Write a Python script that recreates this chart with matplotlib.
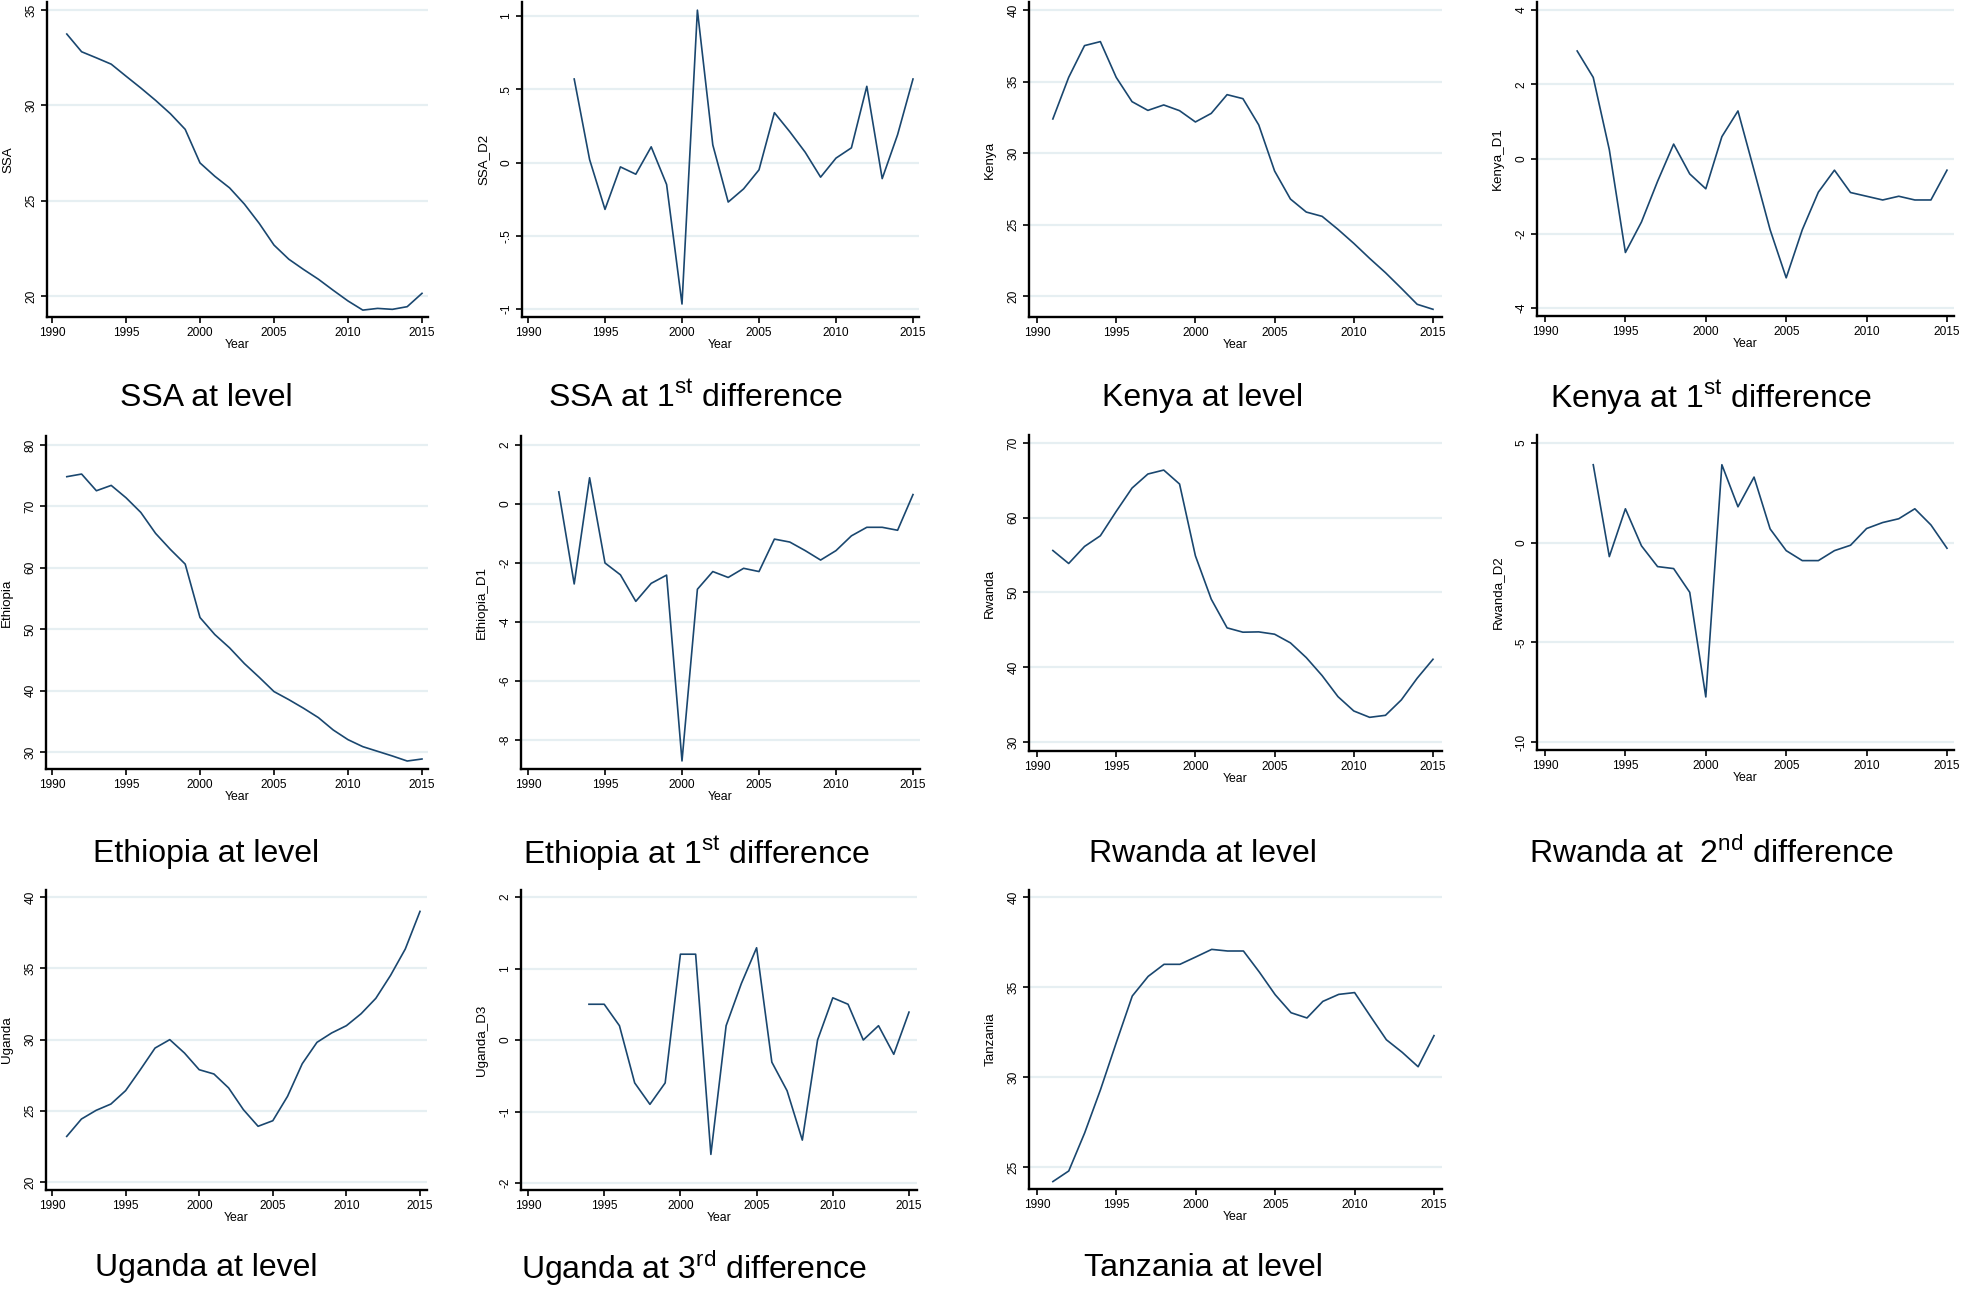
import matplotlib
matplotlib.use('Agg')
import matplotlib.pyplot as plt

plt.rcParams['font.family'] = ['Liberation Sans', 'DejaVu Sans']
plt.rcParams['mathtext.fontset'] = 'custom'
plt.rcParams['mathtext.rm'] = 'Liberation Sans'

# ---- data ----
years_91 = list(range(1991, 2016))
years_92 = list(range(1992, 2016))
years_93 = list(range(1993, 2016))
years_94 = list(range(1994, 2016))

ssa = [33.74, 32.81, 32.49, 32.16, 31.53, 30.91, 30.26, 29.56, 28.74, 26.98,
       26.28, 25.67, 24.82, 23.81, 22.67, 21.93, 21.39, 20.88, 20.30, 19.74,
       19.26, 19.35, 19.30, 19.44, 20.14]
ssa_d2 = [0.57, 0.02, -0.32, -0.03, -0.08, 0.107, -0.15, -0.966, 1.04, 0.12,
          -0.27, -0.18, -0.05, 0.34, 0.21, 0.07, -0.10, 0.03, 0.10, 0.52,
          -0.11, 0.19, 0.57]
kenya = [32.38, 35.29, 37.51, 37.79, 35.29, 33.59, 32.98, 33.36, 32.96, 32.17,
         32.77, 34.08, 33.80, 31.96, 28.74, 26.78, 25.87, 25.57, 24.66, 23.68,
         22.63, 21.63, 20.54, 19.42, 19.07]
kenya_d1 = [2.90, 2.19, 0.25, -2.51, -1.69, -0.60, 0.40, -0.40, -0.80, 0.60,
            1.29, -0.30, -1.90, -3.19, -1.90, -0.89, -0.30, -0.90, -1.00, -1.10,
            -1.00, -1.10, -1.10, -0.30]
ethiopia = [74.84, 75.27, 72.55, 73.42, 71.41, 69.02, 65.60, 62.99, 60.60, 51.90,
            49.13, 46.96, 44.40, 42.17, 39.84, 38.53, 37.12, 35.60, 33.59, 32.01,
            30.87, 30.11, 29.35, 28.53, 28.86]
ethiopia_d1 = [0.41, -2.71, 0.89, -2.00, -2.40, -3.30, -2.69, -2.41, -8.71, -2.89,
               -2.29, -2.49, -2.18, -2.29, -1.19, -1.29, -1.58, -1.90, -1.58, -1.08,
               -0.79, -0.79, -0.89, 0.32]
rwanda = [55.62, 53.88, 56.16, 57.59, 60.85, 63.97, 65.85, 66.38, 64.51, 54.91,
          49.11, 45.27, 44.69, 44.73, 44.42, 43.26, 41.29, 38.88, 36.07, 34.15,
          33.30, 33.57, 35.63, 38.53, 41.07]
rwanda_d2 = [3.91, -0.70, 1.70, -0.16, -1.20, -1.30, -2.49, -7.74, 3.91, 1.80,
             3.29, 0.69, -0.40, -0.90, -0.90, -0.40, -0.13, 0.71, 1.01, 1.20,
             1.70, 0.89, -0.28]
uganda = [23.20, 24.42, 25.03, 25.47, 26.41, 27.88, 29.40, 29.99, 29.05, 27.88,
          27.58, 26.60, 25.08, 23.91, 24.30, 26.01, 28.30, 29.80, 30.46, 30.97,
          31.81, 32.89, 34.50, 36.35, 38.99]
uganda_d3 = [0.50, 0.50, 0.20, -0.60, -0.90, -0.60, 1.20, 1.20, -1.60, 0.20,
             0.79, 1.29, -0.31, -0.71, -1.40, 0.00, 0.59, 0.50, 0.00, 0.20,
             -0.20, 0.39]
tanzania = [24.19, 24.78, 26.89, 29.30, 31.93, 34.50, 35.59, 36.26, 36.26, 36.67,
            37.09, 37.00, 37.00, 35.83, 34.57, 33.57, 33.28, 34.20, 34.59, 34.69,
            33.37, 32.07, 31.37, 30.57, 32.30]

x_ticks = [1990, 1995, 2000, 2005, 2010, 2015]

ssa_ticks = [20, 25, 30, 35]
ssa_d2_ticks = [-1, -0.5, 0, 0.5, 1]
ssa_d2_labels = ['-1', '-.5', '0', '.5', '1']
kenya_ticks = [20, 25, 30, 35, 40]
kenya_d1_ticks = [-4, -2, 0, 2, 4]
ethiopia_ticks = [30, 40, 50, 60, 70, 80]
ethiopia_d1_ticks = [-8, -6, -4, -2, 0, 2]
rwanda_ticks = [30, 40, 50, 60, 70]
rwanda_d2_ticks = [-10, -5, 0, 5]
uganda_ticks = [20, 25, 30, 35, 40]
uganda_d3_ticks = [-2, -1, 0, 1, 2]
tanzania_ticks = [25, 30, 35, 40]

captions = ['SSA at level', 'SSA at 1$^{\\mathrm{st}}$ difference',
            'Kenya at level', 'Kenya at 1$^{\\mathrm{st}}$ difference',
            'Ethiopia at level', 'Ethiopia at 1$^{\\mathrm{st}}$ difference',
            'Rwanda at level', 'Rwanda at  2$^{\\mathrm{nd}}$ difference',
            'Uganda at level', 'Uganda at 3$^{\\mathrm{rd}}$ difference',
            'Tanzania at level']

# panels: (name, years, values, yticks, ylabels, pixel box l,r,t,b, px of 1990/2015, px of first/last grid, caption xy)
panels = [
    ('SSA', years_91, ssa, ssa_ticks, None, (47, 428, 2, 317), (52, 422), (296, 10), (206, 398)),
    ('SSA_D2', years_93, ssa_d2, ssa_d2_ticks, ssa_d2_labels, (522, 919, 2, 317), (528, 913), (309, 16), (695, 398)),
    ('Kenya', years_91, kenya, kenya_ticks, None, (1029, 1442, 2, 317), (1037, 1433), (296, 10), (1203, 398)),
    ('Kenya_D1', years_92, kenya_d1, kenya_d1_ticks, None, (1537, 1954, 2, 316), (1545, 1947), (308, 10), (1711, 398)),
    ('Ethiopia', years_91, ethiopia, ethiopia_ticks, None, (46, 428, 436, 769), (52, 422), (752, 445), (206, 854)),
    ('Ethiopia_D1', years_92, ethiopia_d1, ethiopia_d1_ticks, None, (521, 920, 436, 769), (528, 913), (740, 445), (696, 854)),
    ('Rwanda', years_91, rwanda, rwanda_ticks, None, (1029, 1442, 435, 751), (1037, 1433), (742, 443), (1203, 854)),
    ('Rwanda_D2', years_93, rwanda_d2, rwanda_d2_ticks, None, (1537, 1954, 435, 750), (1545, 1947), (742, 443), (1711, 854)),
    ('Uganda', years_91, uganda, uganda_ticks, None, (46, 427, 890, 1190), (52, 420), (1182, 897), (206, 1268)),
    ('Uganda_D3', years_94, uganda_d3, uganda_d3_ticks, None, (521, 917, 890, 1190), (528, 909), (1183, 897), (694, 1268)),
    ('Tanzania', years_91, tanzania, tanzania_ticks, None, (1029, 1442, 890, 1189), (1037, 1434), (1167, 897), (1203, 1268)),
]

W, H = 1961, 1291
fig = plt.figure(figsize=(W / 100, H / 100), dpi=100)
fig.patch.set_facecolor('white')

navy = '#1a476f'
grid_col = '#e6eff2'

for i, (name, yrs, vals, yt, ylabs, box, xpx, gpx, cap) in enumerate(panels):
    l, r, t, b = box
    ax = fig.add_axes([l / W, 1 - b / H, (r - l) / W, (b - t) / H])
    # map pixel extents to data limits
    ppy = (xpx[1] - xpx[0]) / 25.0
    ax.set_xlim(1990 - (xpx[0] - l) / ppy, 2015 + (r - xpx[1]) / ppy)
    ppu = (gpx[0] - gpx[1]) / float(yt[-1] - yt[0])
    ax.set_ylim(yt[0] - (b - gpx[0]) / ppu, yt[-1] + (gpx[1] - t) / ppu)

    for v in yt:
        ax.axhline(v, color=grid_col, lw=1.6, zorder=0)
    ax.plot(yrs, vals, color=navy, lw=1.2, zorder=3)

    ax.set_xticks(x_ticks)
    ax.set_yticks(yt)
    if ylabs is not None:
        ax.set_yticklabels(ylabs)
    else:
        ax.set_yticklabels([str(v) for v in yt])
    for s in ['top', 'right']:
        ax.spines[s].set_visible(False)
    for s in ['left', 'bottom']:
        ax.spines[s].set_linewidth(1.7)
        ax.spines[s].set_color('black')
    ax.tick_params(axis='both', direction='out', length=4, width=1.2, labelsize=8.6, pad=3)
    for lab in ax.get_yticklabels():
        lab.set_rotation(90)
        lab.set_va('center')
    ax.set_xlabel('Year', fontsize=8.8, labelpad=0)
    ax.set_ylabel(name, fontsize=9.6, labelpad=8)

    fig.text(cap[0] / W, 1 - cap[1] / H, captions[i], ha='center', va='center',
             fontsize=23)

fig.savefig('out.png', dpi=100, facecolor='white')
